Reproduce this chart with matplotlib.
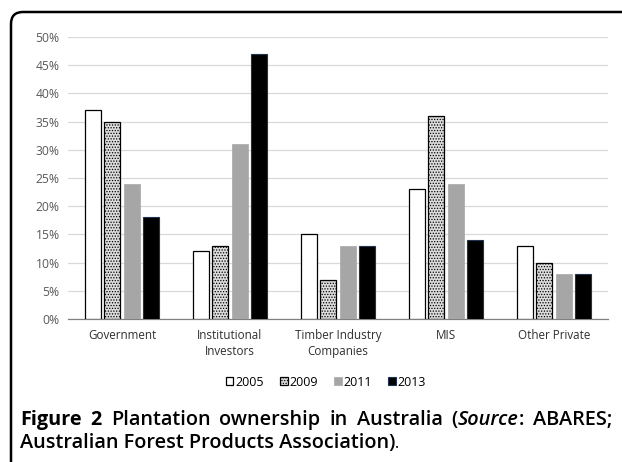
import numpy as np
import matplotlib.pyplot as plt
from matplotlib.patches import FancyBboxPatch

plt.rcParams["font.family"] = ["Open Sans", "DejaVu Sans"]
plt.rcParams["hatch.linewidth"] = 0.6

# =====================================
# Data
# =====================================

categories = ["Government", "Institutional\nInvestors", "Timber Industry\nCompanies",
              "MIS", "Other Private"]
years = ["2005", "2009", "2011", "2013"]

share_2005 = [37, 12, 15, 23, 13]
share_2009 = [35, 13, 7, 36, 10]
share_2011 = [24, 31, 13, 24, 8]
share_2013 = [18, 47, 13, 14, 8]

series = [share_2005, share_2009, share_2011, share_2013]

styles = [
    dict(facecolor="white", edgecolor="black", linewidth=0.9),
    dict(facecolor="#dcdcdc", edgecolor="black", linewidth=0.9, hatch="......"),
    dict(facecolor="#a6a6a6", edgecolor="#a6a6a6", linewidth=0.5),
    dict(facecolor="black", edgecolor="#1f3350", linewidth=0.8),
]

# =====================================
# Figure
# =====================================

fig = plt.figure(figsize=(6.22, 4.62), dpi=100)

# rounded frame around the panel (pixel coordinates)
frame = FancyBboxPatch(
    (11, -40), 700, 462 - 12 + 40,
    boxstyle="round,pad=0,rounding_size=12",
    transform=None, facecolor="none",
    edgecolor="black", linewidth=1.8, clip_on=False,
)
fig.patches.append(frame)

ax = fig.add_axes([68 / 622, 1 - 319 / 462, 540 / 622, 282 / 462])

x = np.arange(len(categories))
width = 0.145
pitch = 0.18

for i, (vals, st) in enumerate(zip(series, styles)):
    ax.bar(x + (i - 1.5) * pitch, vals, width, label=years[i], zorder=3, **st)

ax.set_xlim(-0.5, len(categories) - 0.5)
ax.set_ylim(0, 50)
ax.set_yticks(np.arange(0, 51, 5))
ax.set_yticklabels([f"{v}%" for v in range(0, 51, 5)])
ax.set_xticks(x)
ax.set_xticklabels(categories, fontsize=8.4, color="#303030", linespacing=1.3)

ax.tick_params(axis="y", length=0, labelsize=8.7, labelcolor="#595959", pad=6)
ax.tick_params(axis="x", length=0, pad=7)

ax.grid(axis="y", color="#d9d9d9", linewidth=0.9, zorder=0)
for side in ["top", "right", "left"]:
    ax.spines[side].set_visible(False)
ax.spines["bottom"].set_color("#808080")
ax.spines["bottom"].set_linewidth(0.9)

fig.legend(
    loc="center", bbox_to_anchor=(326 / 622, 1 - 382 / 462), ncol=4,
    frameon=False, fontsize=9, handlelength=0.6, handleheight=0.6,
    handletextpad=0.15, columnspacing=1.3,
)

# =====================================
# Caption (first line justified)
# =====================================

fs = 14.3
sb = "semibold"
line1 = [
    [("Figure", "bold", "normal")],
    [("2", "bold", "normal")],
    [("Plantation", sb, "normal")],
    [("ownership", sb, "normal")],
    [("in", sb, "normal")],
    [("Australia", sb, "normal")],
    [("(", sb, "normal"), ("Source", sb, "italic"), (":", sb, "normal")],
    [("ABARES;", sb, "normal")],
]
line2 = "Australian Forest Products Association)"

renderer = fig.canvas.get_renderer()
left_px, right_px = 20, 612
base1 = 1 - 425 / 462
base2 = 1 - 448 / 462


def put(xpx, y, text, weight, style, size=fs):
    t = fig.text(xpx / 622, y, text, fontsize=size, fontweight=weight,
                 fontstyle=style, va="baseline", ha="left")
    return t, t.get_window_extent(renderer).width


# measure words
word_widths = []
for word in line1:
    w = 0
    for txt, wt, st in word:
        t, tw = put(0, -1, txt, wt, st)
        t.remove()
        w += tw
    word_widths.append(w)

gap = (right_px - left_px - sum(word_widths)) / (len(line1) - 1)
xpos = left_px
for word, ww in zip(line1, word_widths):
    xx = xpos
    for txt, wt, st in word:
        _, tw = put(xx, base1, txt, wt, st)
        xx += tw
    xpos += ww + gap

_, w2 = put(left_px, base2, line2, sb, "normal")
put(left_px + w2, base2, ".", "normal", "normal", size=fs * 0.8)

plt.savefig("out.png", dpi=100)
